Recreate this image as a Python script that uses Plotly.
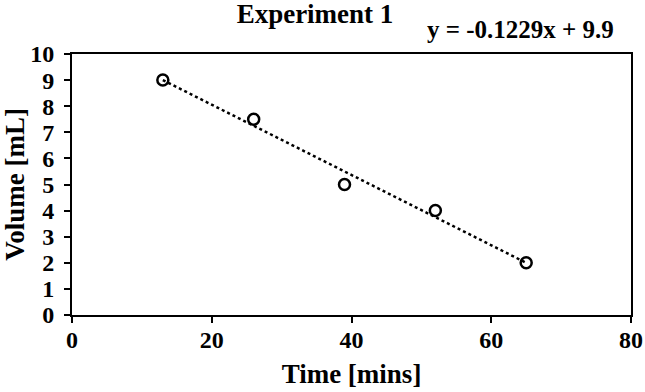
import numpy as np
import plotly.graph_objects as go

time_mins = [13, 26, 39, 52, 65]
volume_ml = [9, 7.5, 5, 4, 2]
title_text = "Experiment 1"
equation_text = "y = -0.1229x + 9.9"
x_ticks = [0, 20, 40, 60, 80]
y_ticks = list(range(0, 11))

font_family = "Liberation Serif, Times New Roman, serif"

slope, intercept = np.polyfit(time_mins, volume_ml, 1)
trend_x = [min(time_mins), max(time_mins)]
trend_y = [slope * x + intercept for x in trend_x]

fig = go.Figure()
fig.add_trace(go.Scatter(
    x=trend_x, y=trend_y, mode="lines",
    line=dict(color="black", width=2.5, dash="dot"),
    showlegend=False, hoverinfo="skip"))
fig.add_trace(go.Scatter(
    x=time_mins, y=volume_ml, mode="markers",
    marker=dict(symbol="circle-open", size=11, color="black",
                line=dict(width=2.5, color="black")),
    showlegend=False))

fig.update_layout(
    width=645, height=392,
    margin=dict(l=72, r=14, t=54, b=77),
    paper_bgcolor="white", plot_bgcolor="white",
    font=dict(family=font_family, color="black"),
    title=dict(text="<b>" + title_text + "</b>", x=315 / 645, xanchor="center",
               y=1 - 4 / 392, yanchor="top", font=dict(size=27, family=font_family)),
    annotations=[dict(text="<b>" + equation_text + "</b>", xref="paper", yref="paper",
                      x=1.0, y=1.0, xanchor="right", yanchor="bottom", xshift=-15, yshift=9,
                      showarrow=False, font=dict(size=25, family=font_family, color="black"))],
    xaxis=dict(range=[0, 80], tickvals=x_ticks, ticktext=["<b>%d</b>" % v for v in x_ticks],
               showgrid=False, zeroline=False, showline=True, linecolor="black",
               linewidth=2, mirror=True, ticks="outside", ticklen=6, tickwidth=1.5,
               tickcolor="black", tickfont=dict(size=24, family=font_family),
               ticklabelstandoff=-4, automargin=False,
               title=dict(text="<b>Time [mins]</b>", font=dict(size=27, family=font_family),
                          standoff=12)),
    yaxis=dict(range=[0, 10], tickvals=y_ticks, ticktext=["<b>%d</b>" % v for v in y_ticks],
               showgrid=False, zeroline=False, showline=True, linecolor="black",
               linewidth=2, mirror=True, ticks="outside", ticklen=6, tickwidth=1.5,
               tickcolor="black", tickfont=dict(size=24, family=font_family),
               ticklabelstandoff=5, automargin=False,
               title=dict(text="<b>Volume [mL]</b>", font=dict(size=27, family=font_family),
                          standoff=4)),
)

fig.write_html("out.html")
